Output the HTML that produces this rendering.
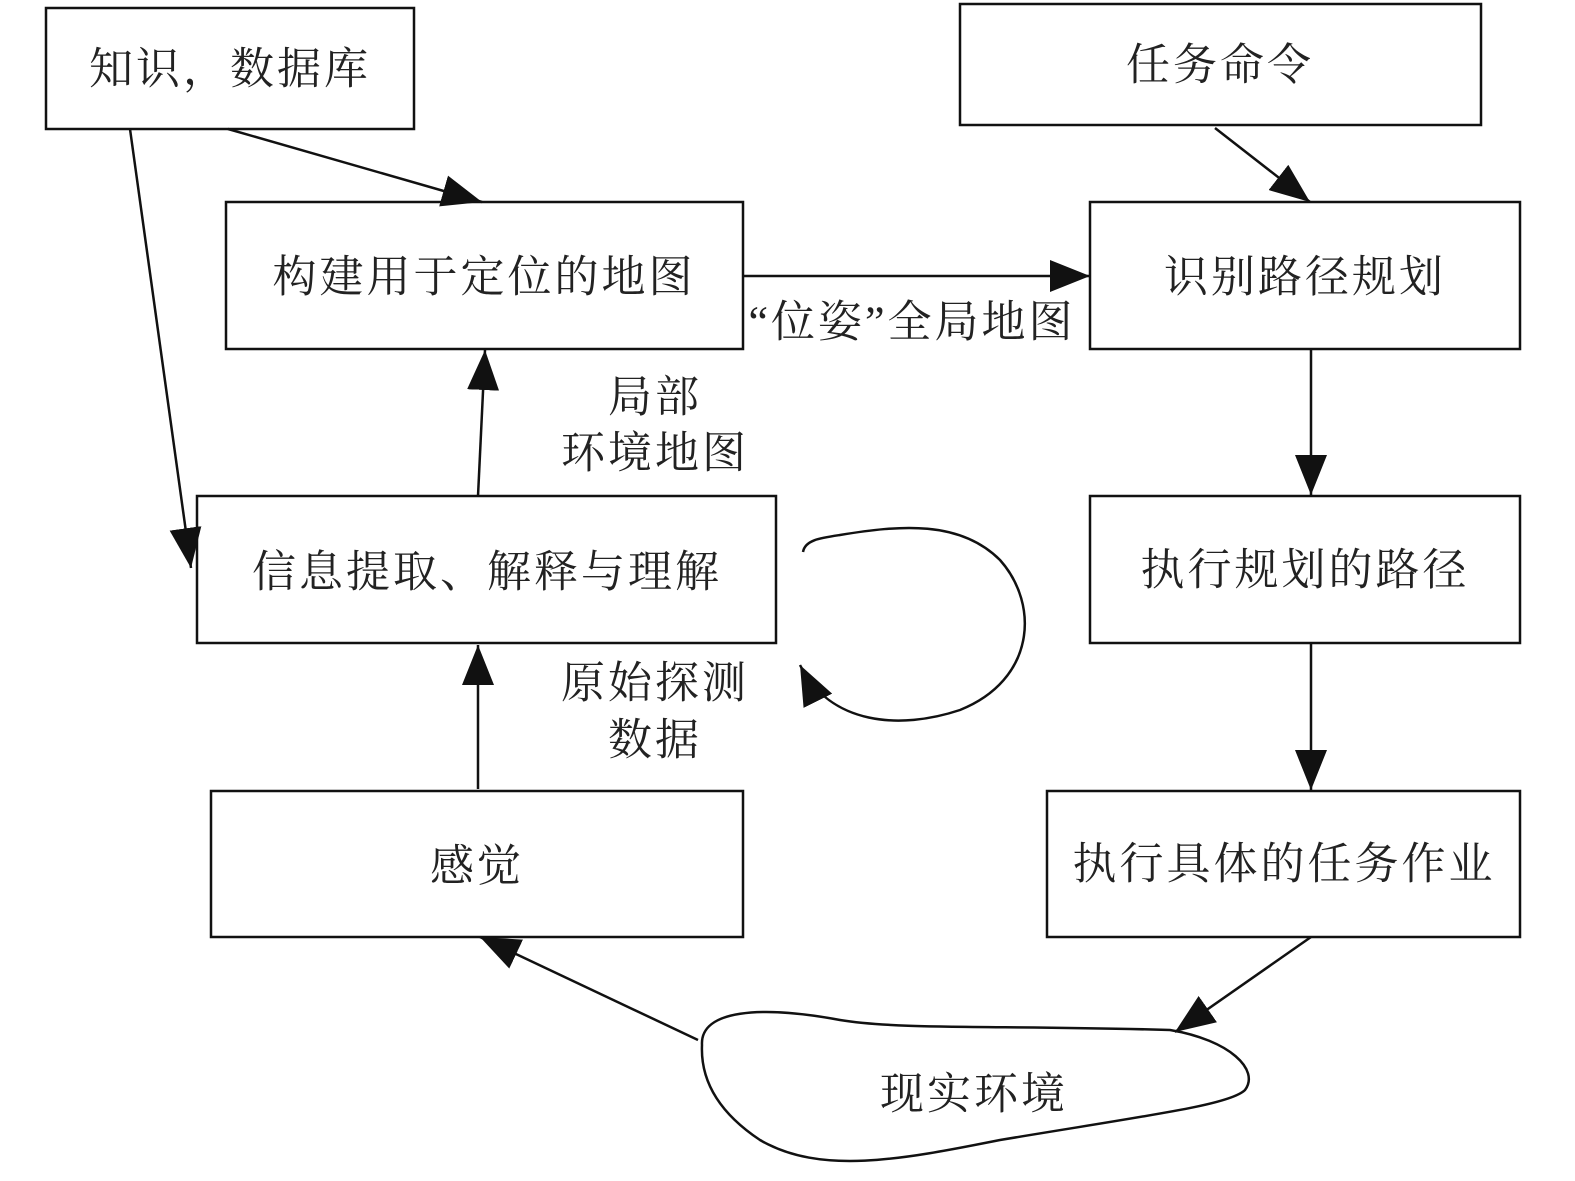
<!DOCTYPE html>
<html><head><meta charset="utf-8"><style>
html,body{margin:0;padding:0;background:#fff;}
svg{display:block;}
text{font-family:"Liberation Serif","Noto Serif CJK SC","Noto Sans CJK SC",serif;font-size:44px;fill:#222;letter-spacing:3px;}
</style></head><body>
<svg width="1575" height="1181" viewBox="0 0 1575 1181" xmlns="http://www.w3.org/2000/svg">
<defs>
<marker id="a" markerWidth="12" markerHeight="10" refX="11" refY="5" orient="auto" markerUnits="userSpaceOnUse" viewBox="0 0 12 10">
</marker>
<marker id="ar" viewBox="0 0 40 32" refX="40" refY="16" markerWidth="40" markerHeight="32" orient="auto" markerUnits="userSpaceOnUse">
<path d="M0,0 L40,16 L0,32 Z" fill="#111"/>
</marker>
</defs>
<g fill="none" stroke="#111" stroke-width="2.5">
<rect x="46" y="8" width="368" height="121"/>
<rect x="960" y="4" width="521" height="121"/>
<rect x="226" y="202" width="517" height="147"/>
<rect x="1090" y="202" width="430" height="147"/>
<rect x="197" y="496" width="579" height="147"/>
<rect x="1090" y="496" width="430" height="147"/>
<rect x="211" y="791" width="532" height="146"/>
<rect x="1047" y="791" width="473" height="146"/>
<line x1="228" y1="129" x2="482" y2="202" marker-end="url(#ar)"/>
<line x1="130" y1="129" x2="191" y2="568" marker-end="url(#ar)"/>
<line x1="1215" y1="128" x2="1310" y2="202" marker-end="url(#ar)"/>
<line x1="743" y1="276" x2="1090" y2="276" marker-end="url(#ar)"/>
<line x1="478" y1="496" x2="485" y2="350" marker-end="url(#ar)"/>
<line x1="1311" y1="349" x2="1311" y2="495" marker-end="url(#ar)"/>
<line x1="1311" y1="643" x2="1311" y2="790" marker-end="url(#ar)"/>
<line x1="478" y1="789" x2="478" y2="645" marker-end="url(#ar)"/>
<line x1="1311" y1="937" x2="1175" y2="1032" marker-end="url(#ar)"/>
<line x1="698" y1="1040" x2="480" y2="937" marker-end="url(#ar)"/>
<path d="M803,552 C805,540 820,538 840,535 C900,525 960,520 1000,560 C1040,605 1035,680 960,710 C900,730 830,725 800,665" marker-end="url(#ar)"/>
<path d="M702,1045 C700,1010 760,1005 840,1020 C900,1030 1000,1025 1170,1030 C1230,1040 1260,1070 1245,1090 C1230,1105 1150,1115 1000,1140 C900,1160 820,1175 760,1140 C730,1120 700,1090 702,1045 Z"/>
</g>
<g text-anchor="middle" dominant-baseline="central">
<text x="230" y="69">知识，数据库</text>
<text x="1220" y="65">任务命令</text>
<text x="484" y="277">构建用于定位的地图</text>
<text x="1305" y="277">识别路径规划</text>
<text x="487" y="572">信息提取、解释与理解</text>
<text x="1305" y="570">执行规划的路径</text>
<text x="477" y="866">感觉</text>
<text x="1284" y="864">执行具体的任务作业</text>
<text x="974" y="1094">现实环境</text>
<text x="655" y="397">局部</text>
<text x="655" y="453">环境地图</text>
<text x="912" y="322">“位姿”全局地图</text>
<text x="655" y="683">原始探测</text>
<text x="655" y="740">数据</text>
</g>
</svg>
</body></html>
